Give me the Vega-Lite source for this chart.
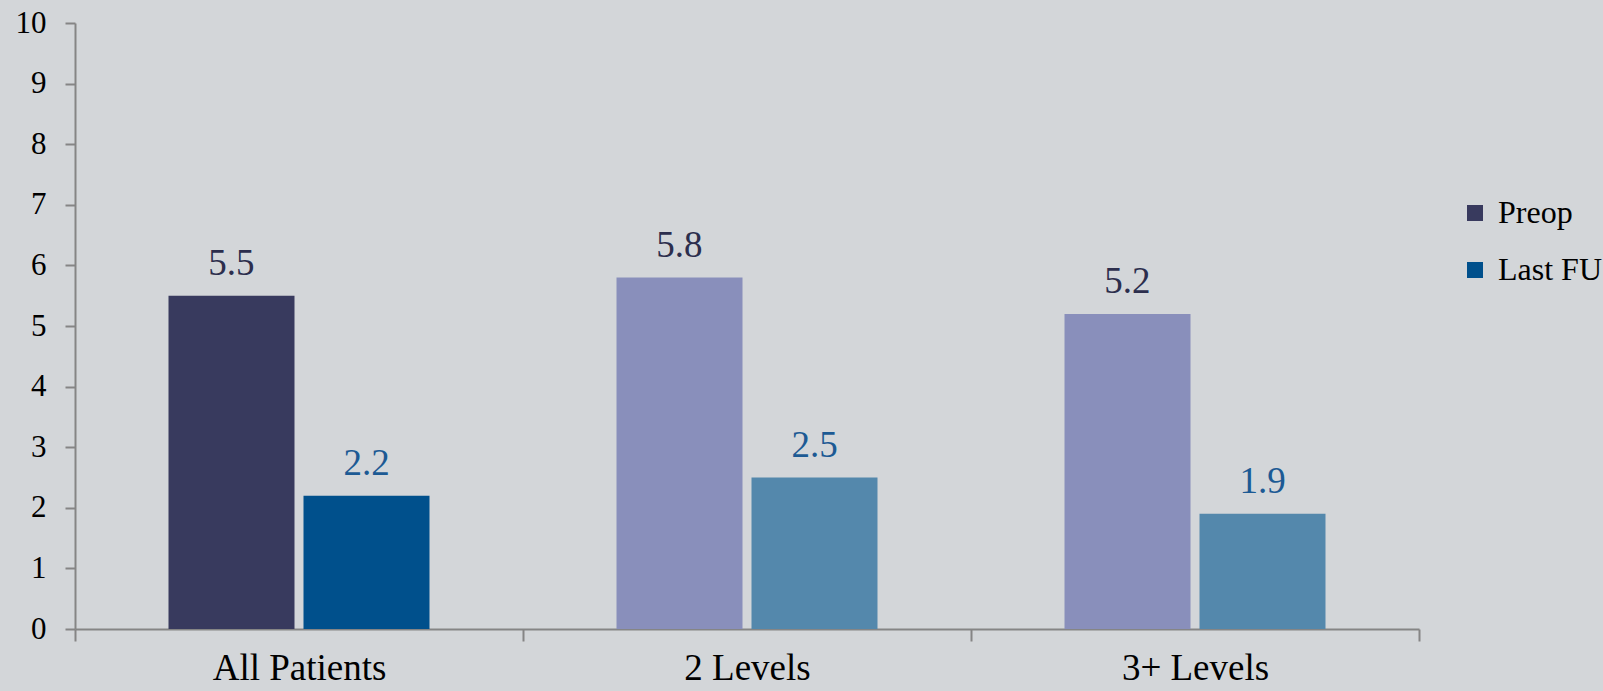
{
  "$schema": "https://vega.github.io/schema/vega-lite/v6.json",
  "width": 1344,
  "height": 606,
  "autosize": "none",
  "padding": {"left": 75, "top": 23, "right": 184, "bottom": 62},
  "background": "#d3d6d9",
  "config": {
    "view": {"stroke": null},
    "font": "Liberation Serif",
    "legend": {"labelFont": "Liberation Serif", "labelFontSize": 32},
    "text": {"font": "Liberation Serif"}
  },
  "data": {
    "values": [
      {"group": "All Patients", "series": "Preop", "value": 5.5},
      {"group": "All Patients", "series": "Last FU", "value": 2.2},
      {"group": "2 Levels", "series": "Preop", "value": 5.8},
      {"group": "2 Levels", "series": "Last FU", "value": 2.5},
      {"group": "3+ Levels", "series": "Preop", "value": 5.2},
      {"group": "3+ Levels", "series": "Last FU", "value": 1.9}
    ]
  },
  "encoding": {
    "x": {
      "field": "group",
      "type": "nominal",
      "sort": ["All Patients", "2 Levels", "3+ Levels"],
      "scale": {"paddingInner": 0, "paddingOuter": 0},
      "axis": {
        "title": null,
        "labelAngle": 0,
        "tickBand": "extent",
        "domainColor": "#858585",
        "domainWidth": 2,
        "tickColor": "#858585",
        "tickWidth": 2,
        "tickSize": 12,
        "labelFont": "Liberation Serif",
        "labelFontSize": 37,
        "labelColor": "#000000",
        "labelPadding": 9,
        "labelLimit": 0,
        "grid": false
      }
    },
    "xOffset": {
      "field": "series",
      "type": "nominal",
      "sort": ["Preop", "Last FU"],
      "scale": {"paddingInner": 0.0667, "paddingOuter": 0.6926}
    },
    "y": {
      "field": "value",
      "type": "quantitative",
      "scale": {"domain": [0, 10], "nice": false},
      "axis": {
        "title": null,
        "values": [0, 1, 2, 3, 4, 5, 6, 7, 8, 9, 10],
        "grid": false,
        "domainColor": "#858585",
        "domainWidth": 2,
        "tickColor": "#858585",
        "tickWidth": 2,
        "tickSize": 10,
        "labelFont": "Liberation Serif",
        "labelFontSize": 31,
        "labelColor": "#000000",
        "labelPadding": 19
      }
    }
  },
  "layer": [
    {
      "mark": {"type": "bar"},
      "encoding": {
        "color": {
          "condition": [
            {"test": "datum.group !== 'All Patients' && datum.series === 'Preop'", "value": "#898fbb"},
            {"test": "datum.group !== 'All Patients' && datum.series === 'Last FU'", "value": "#5488ac"}
          ],
          "field": "series",
          "type": "nominal",
          "scale": {"domain": ["Preop", "Last FU"], "range": ["#383a5e", "#00508c"]},
          "legend": {
            "title": null,
            "orient": "none",
            "legendX": 1384,
            "legendY": 174,
            "symbolType": "square",
            "symbolSize": 256,
            "symbolStrokeWidth": 0,
            "labelFont": "Liberation Serif",
            "labelFontSize": 32,
            "labelLimit": 0,
            "labelColor": "#000000",
            "labelOffset": 7,
            "rowPadding": 25
          }
        }
      }
    },
    {
      "mark": {"type": "text", "baseline": "alphabetic", "dy": -21, "fontSize": 37, "font": "Liberation Serif"},
      "encoding": {
        "text": {"field": "value", "type": "quantitative", "format": ".1f"},
        "color": {
          "condition": {"test": "datum.series === 'Preop'", "value": "#2c2e4d"},
          "value": "#1c5a94"
        }
      }
    }
  ]
}
